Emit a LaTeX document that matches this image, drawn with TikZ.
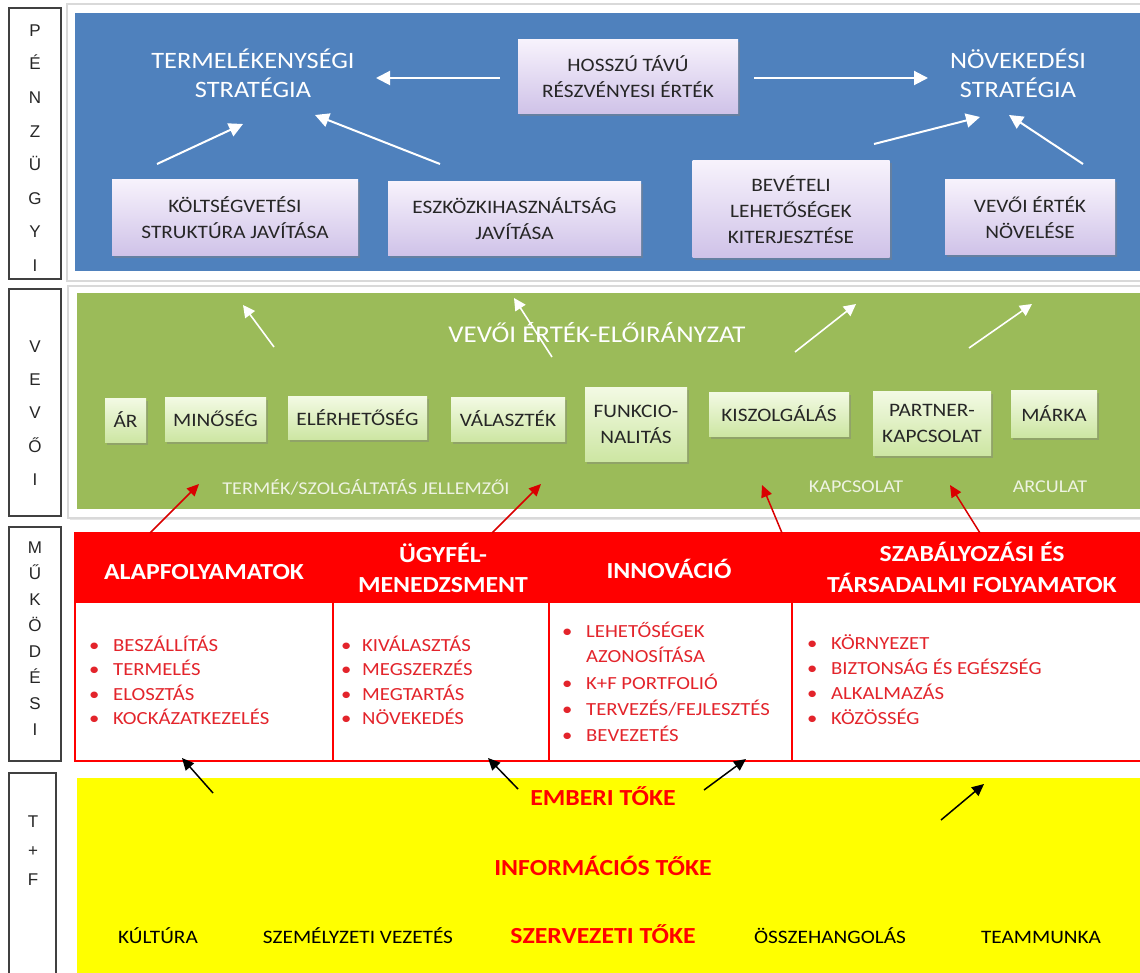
\documentclass[tikz,border=0pt]{standalone}
\usepackage{fontspec}
\setmainfont{Carlito}[FakeStretch=1.12]
\newfontfamily\lettfont{Liberation Sans}
\usetikzlibrary{arrows.meta,shadows}
\definecolor{panelblue}{HTML}{4F81BD}
\definecolor{panelgreen}{HTML}{9BBB59}
\definecolor{lavtop}{HTML}{F7F2FC}
\definecolor{lavbot}{HTML}{CFC2E8}
\definecolor{grntop}{HTML}{F3FAE4}
\definecolor{grnbot}{HTML}{CDE6A3}
\definecolor{redfill}{HTML}{FF0000}
\definecolor{redtext}{HTML}{E3242B}
\definecolor{darktext}{HTML}{262626}
\definecolor{labeltext}{HTML}{EEF3E2}
\definecolor{yellowfill}{HTML}{FFFF00}
\newcommand\fsz[2]{\fontsize{#1}{#2}\selectfont}
\newcommand\bul[2]{\makebox[#1][l]{\textbullet}#2}
\tikzset{
  frame/.style={fill=white, draw=black!15, line width=1.2pt,
    drop shadow={opacity=0.2, shadow xshift=1.5pt, shadow yshift=-1.5pt}},
  sidebox/.style={draw=black!75, line width=1.1pt, fill=white},
  sidetext/.style={align=center, inner sep=0pt, text=black!85},
  lavbox/.style={rectangle, top color=lavtop, bottom color=lavbot, draw=none,
    drop shadow={opacity=0.45, shadow xshift=2pt, shadow yshift=-2.5pt},
    align=center, text=darktext, font=\fsz{19}{26}, inner sep=0pt},
  grnbox/.style={rectangle, top color=grntop, bottom color=grnbot, draw=none,
    drop shadow={opacity=0.4, shadow xshift=2pt, shadow yshift=-2.5pt},
    align=center, text=darktext, font=\fsz{19}{26}, inner sep=0pt},
  bluetitle/.style={text=white, font=\fsz{23.5}{29}, align=center, inner sep=0pt},
  glabel/.style={text=labeltext, font=\fsz{18}{22}, anchor=base, inner sep=0pt},
  redhead/.style={text=white, font=\bfseries\fsz{23}{30}, anchor=base, inner sep=0pt},
  bullet/.style={text=redtext, font=\fsz{18.5}{24}, anchor=base west, inner sep=0pt},
  redline/.style={draw=redfill, line width=2.5pt},
  yred/.style={text=redfill, font=\bfseries\fsz{23}{28}, anchor=base, inner sep=0pt},
  yblack/.style={text=black, font=\fsz{19}{24}, anchor=base, inner sep=0pt},
  wharrow/.style={draw=white, line width=2pt, -{Triangle[length=14pt,width=14pt]}},
  wgarrow/.style={draw=white, line width=1.6pt, -{Triangle[length=12pt,width=12pt]}},
  rarrow/.style={draw=redfill!85!black, line width=1.5pt, -{Triangle[length=12pt,width=11pt]}},
  karrow/.style={draw=black, line width=1.5pt, -{Triangle[length=12pt,width=11pt]}}
}
\begin{document}
\begin{tikzpicture}[x=1pt,y=-1pt]
\useasboundingbox (0,0) rectangle (1140,973);
\fill[white] (0,0) rectangle (1140,973);

% ---------- left column ----------
\draw[sidebox] (9,8) rectangle (61,279);
\draw[sidebox] (9,289) rectangle (61,516);
\draw[sidebox] (9,527) rectangle (61,761);
\draw[sidebox] (9,773) rectangle (56,985);
\node[sidetext, font=\lettfont\fsz{17}{33.6}] (lpenz) at (35,148) {P\\É\\N\\Z\\Ü\\G\\Y\\I};
\node[sidetext, font=\lettfont\fsz{17}{33.3}] (lvevo) at (35,413) {V\\E\\V\\Ő\\I};
\node[sidetext, font=\lettfont\fsz{17}{26}] (lmuk) at (35,639) {M\\Ű\\K\\Ö\\D\\É\\S\\I};
\node[sidetext, font=\lettfont\fsz{17}{29}] (ltf) at (33,851) {T\\+\\F};

% ---------- financial (blue) ----------
\filldraw[frame] (67,4) rectangle (1150,281);
\fill[panelblue] (75,13) rectangle (1150,271);
\node[bluetitle] (termel) at (253,73) {TERMELÉKENYSÉGI\\STRATÉGIA};
\node[bluetitle] (novek) at (1018,73) {NÖVEKEDÉSI\\STRATÉGIA};
\node[lavbox, minimum width=220pt, minimum height=74pt] (hosszu) at (628,77) {HOSSZÚ TÁVÚ\\RÉSZVÉNYESI ÉRTÉK};
\node[lavbox, minimum width=246pt, minimum height=76pt] (kolt) at (235,218) {KÖLTSÉGVETÉSI\\STRUKTÚRA JAVÍTÁSA};
\node[lavbox, minimum width=253pt, minimum height=74pt] (eszk) at (514.5,219) {ESZKÖZKIHASZNÁLTSÁG\\JAVÍTÁSA};
\node[lavbox, minimum width=197pt, minimum height=97pt] (bevet) at (791,209.5) {BEVÉTELI\\LEHETŐSÉGEK\\KITERJESZTÉSE};
\node[lavbox, minimum width=170pt, minimum height=75pt] (vevert) at (1030,217.5) {VEVŐI ÉRTÉK\\NÖVELÉSE};
\coordinate (b1s) at (500,78);  \coordinate (b1e) at (376,78);
\coordinate (b2s) at (754,78);  \coordinate (b2e) at (928,78);
\coordinate (b3s) at (157,164); \coordinate (b3e) at (243,124);
\coordinate (b4s) at (440,164); \coordinate (b4e) at (315,115);
\coordinate (b5s) at (874,144); \coordinate (b5e) at (980,117);
\coordinate (b6s) at (1083,164); \coordinate (b6e) at (1009,115);
\draw[wharrow] (b1s) -- (b1e);
\draw[wharrow] (b2s) -- (b2e);
\draw[wharrow] (b3s) -- (b3e);
\draw[wharrow] (b4s) -- (b4e);
\draw[wharrow] (b5s) -- (b5e);
\draw[wharrow] (b6s) -- (b6e);

% ---------- customer (green) ----------
\filldraw[frame] (68,286) rectangle (1150,518);
\fill[panelgreen] (77,293) rectangle (1150,509);
\node[text=white, font=\fsz{24}{28}, anchor=base, inner sep=0pt] (vevoelo) at (597,342) {VEVŐI ÉRTÉK-ELŐIRÁNYZAT};
\node[grnbox, minimum width=41pt, minimum height=44pt] (ar) at (125.5,420) {ÁR};
\node[grnbox, minimum width=101pt, minimum height=44pt] (minoseg) at (215.5,419) {MINŐSÉG};
\node[grnbox, minimum width=139pt, minimum height=43pt] (eler) at (357.5,417.5) {ELÉRHETŐSÉG};
\node[grnbox, minimum width=114pt, minimum height=44pt] (valasz) at (508,419) {VÁLASZTÉK};
\node[grnbox, minimum width=102pt, minimum height=74pt] (funk) at (636,424) {FUNKCIO-\\NALITÁS};
\node[grnbox, minimum width=140pt, minimum height=44pt] (kiszolg) at (779,414) {KISZOLGÁLÁS};
\node[grnbox, minimum width=118pt, minimum height=64pt] (partner) at (932,423) {PARTNER-\\KAPCSOLAT};
\node[grnbox, minimum width=86pt, minimum height=47pt] (marka) at (1054,413.5) {MÁRKA};
\node[glabel] (termjell) at (366,494) {TERMÉK/SZOLGÁLTATÁS JELLEMZŐI};
\node[glabel] (kapcs) at (856,492) {KAPCSOLAT};
\node[glabel] (arcul) at (1050,492) {ARCULAT};
\coordinate (g1s) at (274,347); \coordinate (g1e) at (243,305);
\coordinate (g2s) at (552,357); \coordinate (g2e) at (514,298);
\coordinate (g3s) at (795,352); \coordinate (g3e) at (856,304);
\coordinate (g4s) at (969,348); \coordinate (g4e) at (1032,304);
\draw[wgarrow] (g1s) -- (g1e);
\draw[wgarrow] (g2s) -- (g2e);
\draw[wgarrow] (g3s) -- (g3e);
\draw[wgarrow] (g4s) -- (g4e);

% ---------- operations (red) ----------
\fill[white] (75,533) rectangle (1150,761);
\fill[redfill] (75,533) rectangle (1150,603);
\draw[redline] (75,533) rectangle (1150,761);
\draw[redline] (333,603) -- (333,761);
\draw[redline] (549,603) -- (549,761);
\draw[redline] (792,603) -- (792,761);
\node[redhead] (alap) at (204,579) {ALAPFOLYAMATOK};
\node[redhead] (ugyf1) at (443,562) {ÜGYFÉL-};
\node[redhead] (ugyf2) at (443,592) {MENEDZSMENT};
\node[redhead] (innov) at (669,578) {INNOVÁCIÓ};
\node[redhead] (szab1) at (972,561) {SZABÁLYOZÁSI ÉS};
\node[redhead] (szab2) at (972,592) {TÁRSADALMI FOLYAMATOK};
% column 1
\node[bullet] (c1a) at (89,651)   {\bul{24pt}{BESZÁLLÍTÁS}};
\node[bullet] (c1b) at (89,675.5) {\bul{24pt}{TERMELÉS}};
\node[bullet] (c1c) at (89,700)   {\bul{24pt}{ELOSZTÁS}};
\node[bullet] (c1d) at (89,724.5) {\bul{24pt}{KOCKÁZATKEZELÉS}};
% column 2
\node[bullet] (c2a) at (341,651)   {\bul{21pt}{KIVÁLASZTÁS}};
\node[bullet] (c2b) at (341,675.5) {\bul{21pt}{MEGSZERZÉS}};
\node[bullet] (c2c) at (341,700)   {\bul{21pt}{MEGTARTÁS}};
\node[bullet] (c2d) at (341,724.5) {\bul{21pt}{NÖVEKEDÉS}};
% column 3
\node[bullet] (c3a) at (562,637) {\bul{24pt}{LEHETŐSÉGEK}};
\node[bullet] (c3b) at (586,662) {AZONOSÍTÁSA};
\node[bullet] (c3c) at (562,689) {\bul{24pt}{K+F PORTFOLIÓ}};
\node[bullet] (c3d) at (562,715) {\bul{24pt}{TERVEZÉS/FEJLESZTÉS}};
\node[bullet] (c3e) at (562,741) {\bul{24pt}{BEVEZETÉS}};
% column 4
\node[bullet] (c4a) at (807,649) {\bul{24pt}{KÖRNYEZET}};
\node[bullet] (c4b) at (807,674) {\bul{24pt}{BIZTONSÁG ÉS EGÉSZSÉG}};
\node[bullet] (c4c) at (807,699) {\bul{24pt}{ALKALMAZÁS}};
\node[bullet] (c4d) at (807,724) {\bul{24pt}{KÖZÖSSÉG}};
% red arrows up to customer level
\coordinate (r1s) at (150,533); \coordinate (r1e) at (199,484);
\coordinate (r2s) at (492,533); \coordinate (r2e) at (541,484);
\coordinate (r3s) at (782,533); \coordinate (r3e) at (762,485);
\coordinate (r4s) at (980,533); \coordinate (r4e) at (950,485);
\draw[rarrow] (r1s) -- (r1e);
\draw[rarrow] (r2s) -- (r2e);
\draw[rarrow] (r3s) -- (r3e);
\draw[rarrow] (r4s) -- (r4e);

% ---------- learning & growth (yellow) ----------
\fill[yellowfill] (77,778) rectangle (1150,985);
\node[yred] (ember) at (603,805) {EMBERI TŐKE};
\node[yred] (inform) at (603,875) {INFORMÁCIÓS TŐKE};
\node[yred] (szerv) at (603,943) {SZERVEZETI TŐKE};
\node[yblack] (kult) at (158,943) {KÚLTÚRA};
\node[yblack] (szemely) at (358,943) {SZEMÉLYZETI VEZETÉS};
\node[yblack] (osszeh) at (830,943) {ÖSSZEHANGOLÁS};
\node[yblack] (team) at (1041,943) {TEAMMUNKA};
\coordinate (k1s) at (213,793); \coordinate (k1e) at (182,758);
\coordinate (k2s) at (518,789); \coordinate (k2e) at (488,758);
\coordinate (k3s) at (704,790); \coordinate (k3e) at (746,759);
\coordinate (k4s) at (941,820); \coordinate (k4e) at (984,784);
\draw[karrow] (k1s) -- (k1e);
\draw[karrow] (k2s) -- (k2e);
\draw[karrow] (k3s) -- (k3e);
\draw[karrow] (k4s) -- (k4e);
\end{tikzpicture}
\end{document}
